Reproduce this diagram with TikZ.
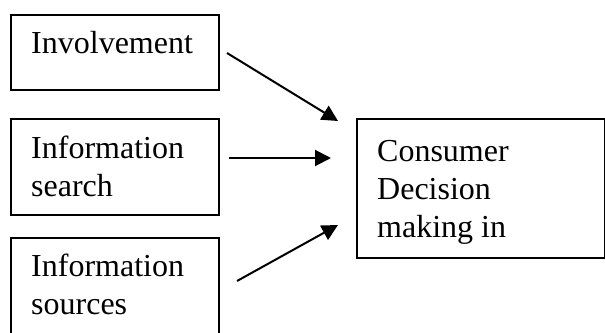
\documentclass[tikz,border=0pt]{standalone}
\usepackage{fontspec}
\setmainfont{Liberation Serif}
\usetikzlibrary{arrows.meta}
\begin{document}
\begin{tikzpicture}[x=1pt,y=-1pt,
  boxstyle/.style={draw,line width=2pt,inner sep=0pt,anchor=north west},
  txt/.style={inner sep=0pt,anchor=base west,align=left,font=\fontsize{32}{38}\selectfont},
  arr/.style={line width=2pt,-{Triangle[length=16pt,width=16pt]}}]
\useasboundingbox (0,0) rectangle (605,332);
\clip (0,0) rectangle (605,332);
% boxes
\node[boxstyle,minimum width=208.5pt,minimum height=75pt] (b1) at (9.5,14) {};
\node[boxstyle,minimum width=208.5pt,minimum height=96pt] (b2) at (9.5,118) {};
\node[boxstyle,minimum width=208.5pt,minimum height=130pt] (b3) at (9.5,237) {};
\node[boxstyle,minimum width=248pt,minimum height=139pt] (b4) at (356,118) {};
% texts (anchored at the baseline of the last line)
\node[txt] (t1) at (31,53) {Involvement};
\node[txt] (t2) at (31,196) {Information\\search};
\node[txt] (t3) at (31,314) {Information\\sources};
\node[txt] (t4) at (377,237) {Consumer\\Decision\\making in};
% arrow ends
\coordinate (s1) at (227,53);
\coordinate (e1) at (338,121);
\coordinate (s2) at (229,158);
\coordinate (e2) at (331,158);
\coordinate (s3) at (237,281);
\coordinate (e3) at (338,225);
\draw[arr] (s1) -- (e1);
\draw[arr] (s2) -- (e2);
\draw[arr] (s3) -- (e3);
\end{tikzpicture}
\end{document}
